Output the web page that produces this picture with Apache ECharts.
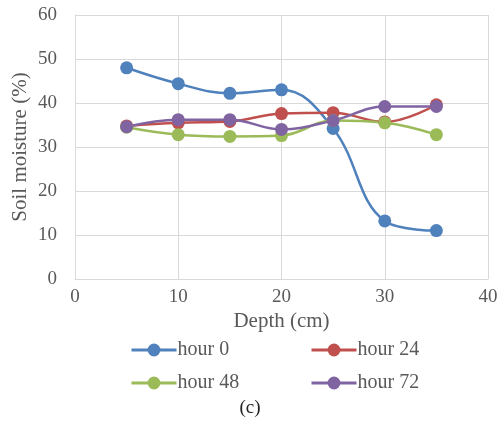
<!DOCTYPE html>
<html><head><meta charset="utf-8">
<script src="https://cdn.jsdelivr.net/npm/echarts@6/dist/echarts.min.js"></script>
<style>html,body{margin:0;padding:0;background:#fff}#c{width:500px;height:425px}</style>
</head><body><div id="c"></div>
<script>
const depths = [5, 10, 15, 20, 25, 30, 35];
const hour0 = [48, 44.4, 42.2, 43, 34.2, 13.2, 11];
const hour24 = [34.8, 35.5, 35.8, 37.6, 37.8, 35.7, 39.6];
const hour48 = [34.5, 32.8, 32.4, 32.6, 36, 35.5, 32.8];
const hour72 = [34.6, 36.2, 36.2, 34, 36, 39.2, 39.2];
const names = ['hour 0', 'hour 24', 'hour 48', 'hour 72'];
const colors = ['#4F81BD', '#C0504D', '#9BBB59', '#8064A2'];
const seriesData = [hour0, hour24, hour48, hour72];

const font = 'Liberation Serif';
const txt = '#595959';
const chart = echarts.init(document.getElementById('c'));
const legendPos = [[130, 340], [310, 340], [130, 373], [310, 373]];
chart.setOption({
  animation: false,
  grid: {left: 75, right: 12, top: 15, bottom: 146, outerBoundsMode: 'none', containLabel: false},
  xAxis: {
    type: 'value', min: 0, max: 40, interval: 10,
    name: 'Depth (cm)', nameLocation: 'middle', nameGap: 32, nameMoveOverlap: false,
    nameTextStyle: {fontFamily: font, fontSize: 21, color: txt},
    axisLine: {show: true, lineStyle: {color: '#d9d9d9'}},
    axisTick: {show: false},
    axisLabel: {fontFamily: font, fontSize: 19, color: txt, margin: 9},
    splitLine: {show: true, lineStyle: {color: '#d9d9d9', width: 1}}
  },
  yAxis: {
    type: 'value', min: 0, max: 60, interval: 10,
    name: 'Soil moisture (%)', nameLocation: 'middle', nameGap: 44, nameMoveOverlap: false,
    nameTextStyle: {fontFamily: font, fontSize: 21, color: txt},
    axisLine: {show: true, lineStyle: {color: '#d9d9d9'}},
    axisTick: {show: false},
    axisLabel: {fontFamily: font, fontSize: 19, color: txt, margin: 18},
    splitLine: {show: true, lineStyle: {color: '#d9d9d9', width: 1}}
  },
  legend: names.map((n, i) => ({
    data: [n], left: legendPos[i][0], top: legendPos[i][1], padding: 0,
    itemWidth: 45, itemHeight: 16, itemGap: 0,
    lineStyle: {width: 3},
    textStyle: {fontFamily: font, fontSize: 20, color: txt, padding: [0, 0, 0, -4]}
  })),
  graphic: [{
    type: 'text', left: 'center', top: 399,
    style: {text: '(c)', fontFamily: font, fontSize: 19, fill: '#222'}
  }],
  series: names.map((n, i) => ({
    name: n, type: 'line', smooth: 0.4,
    data: depths.map((d, j) => [d, seriesData[i][j]]),
    symbol: 'circle', symbolSize: 13,
    lineStyle: {color: colors[i], width: 2.5},
    itemStyle: {color: colors[i]}
  }))
});
</script></body></html>
